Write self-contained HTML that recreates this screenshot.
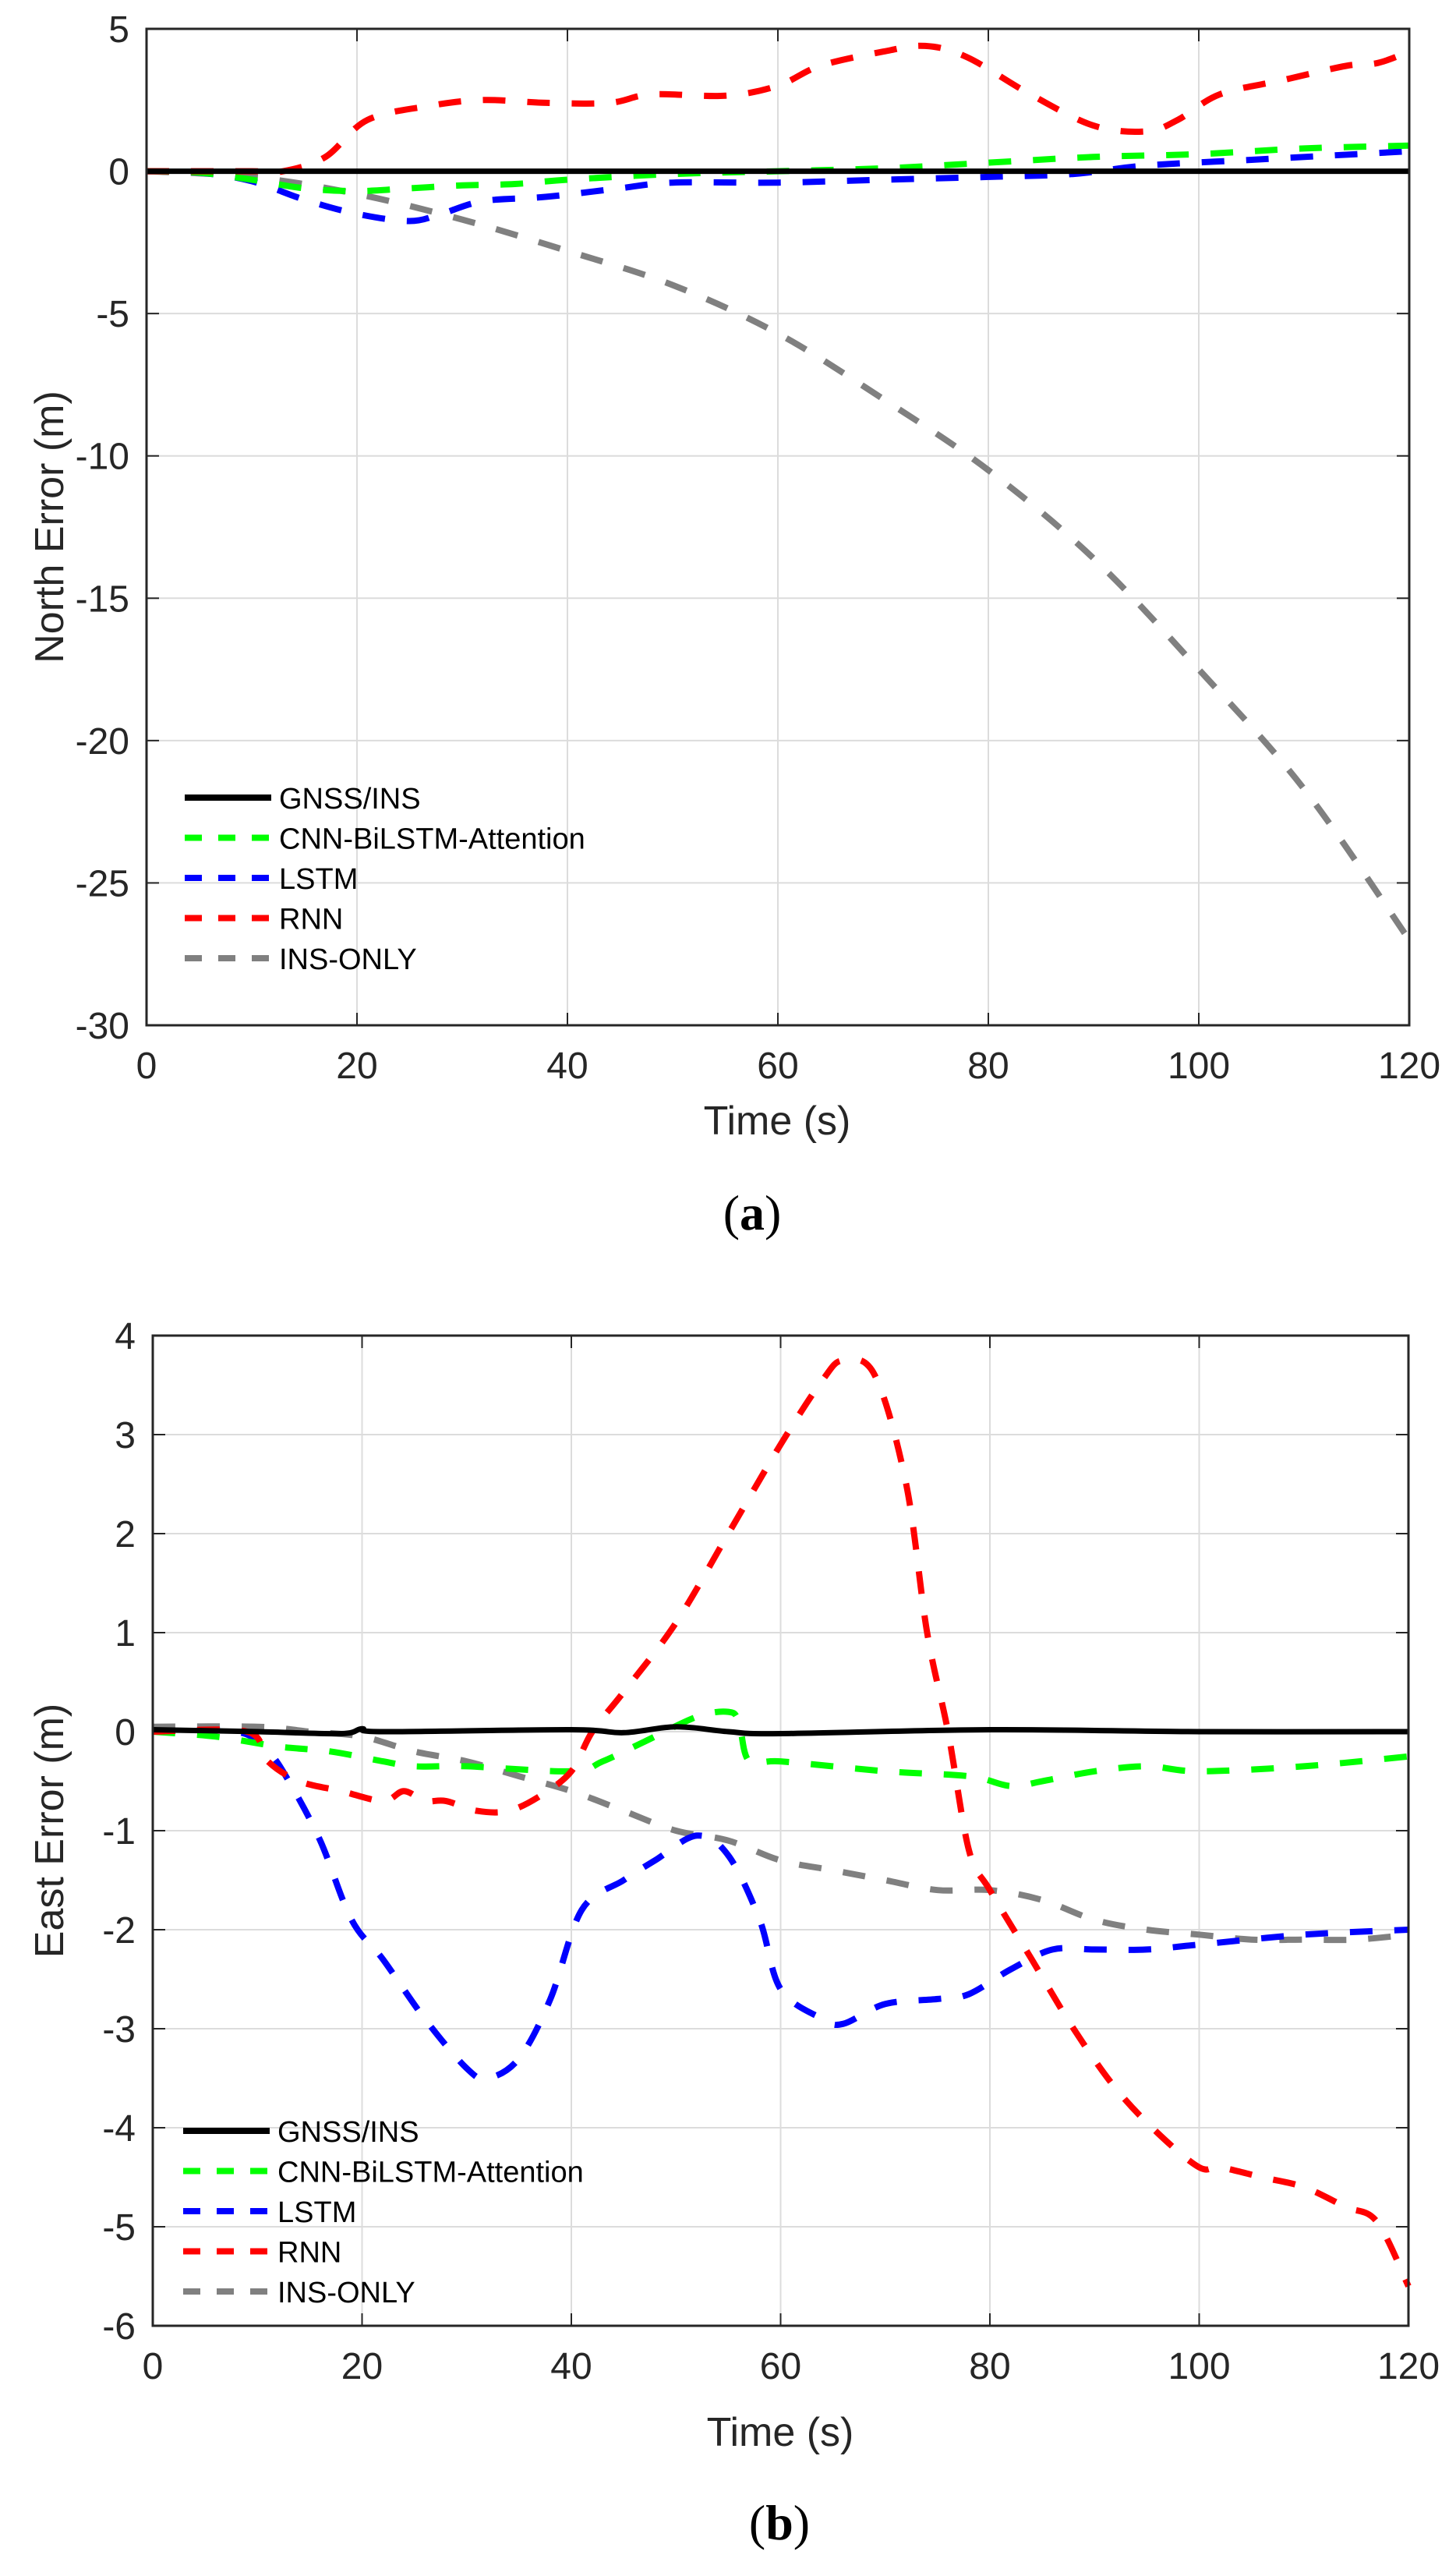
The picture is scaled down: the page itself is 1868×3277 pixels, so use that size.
<!DOCTYPE html>
<html><head><meta charset="utf-8"><style>
html,body{margin:0;padding:0;background:#fff}
svg{display:block}
text{font-family:"Liberation Sans",Arial,sans-serif;fill:#262626}
</style></head><body>
<svg id="s" width="1868" height="3277" viewBox="0 0 1868 3277" xmlns="http://www.w3.org/2000/svg">
<g id="ga"></g><g id="gb"></g>
<text x="63" y="676" font-size="52" text-anchor="middle" transform="rotate(-90 63 676)" dy="18">North Error (m)</text>
<text x="997" y="1455" font-size="52" text-anchor="middle">Time (s)</text>
<text x="965" y="1577" font-size="64" text-anchor="middle" style="font-family:'Liberation Serif',serif;fill:#000">(<tspan font-weight="bold">a</tspan>)</text>
<text x="63" y="2348" font-size="52" text-anchor="middle" transform="rotate(-90 63 2348)" dy="18">East Error (m)</text>
<text x="1001" y="3137" font-size="52" text-anchor="middle">Time (s)</text>
<text x="1000" y="3257" font-size="64" text-anchor="middle" style="font-family:'Liberation Serif',serif;fill:#000">(<tspan font-weight="bold">b</tspan>)</text>
</svg>
<script>
const NS="http://www.w3.org/2000/svg";
function el(p,t,a,txt){const e=document.createElementNS(NS,t);for(const k in a)e.setAttribute(k,a[k]);if(txt!==undefined)e.textContent=txt;p.appendChild(e);return e;}
function path(pts){
 let d="M"+pts[0][0].toFixed(1)+","+pts[0][1].toFixed(1);
 for(let i=0;i<pts.length-1;i++){const p0=pts[Math.max(0,i-1)],p1=pts[i],p2=pts[i+1],p3=pts[Math.min(pts.length-1,i+2)];
  const c1=[p1[0]+(p2[0]-p0[0])/6,p1[1]+(p2[1]-p0[1])/6],c2=[p2[0]-(p3[0]-p1[0])/6,p2[1]-(p3[1]-p1[1])/6];
  d+="C"+c1[0].toFixed(1)+","+c1[1].toFixed(1)+" "+c2[0].toFixed(1)+","+c2[1].toFixed(1)+" "+p2[0].toFixed(1)+","+p2[1].toFixed(1);}
 return d;}
function plot(g,cfg){
 const {x0,x1,y0,y1,ymin,ymax,ystep,series,leg}=cfg;
 const X=t=>x0+(x1-x0)*t/120, Y=v=>y1-(y1-y0)*(v-ymin)/(ymax-ymin);
 for(let t=0;t<=120;t+=20){ if(t>0&&t<120) el(g,"line",{x1:X(t),x2:X(t),y1:y0,y2:y1,stroke:"#dcdcdc","stroke-width":2});
  el(g,"line",{x1:X(t),x2:X(t),y1:y1,y2:y1-16,stroke:"#262626","stroke-width":2});
  el(g,"line",{x1:X(t),x2:X(t),y1:y0,y2:y0+16,stroke:"#262626","stroke-width":2});
  el(g,"text",{x:X(t),y:y1+68,"font-size":48,"text-anchor":"middle"},String(t));}
 for(let v=ymin;v<=ymax+1e-9;v+=ystep){ if(v>ymin&&v<ymax) el(g,"line",{x1:x0,x2:x1,y1:Y(v),y2:Y(v),stroke:"#dcdcdc","stroke-width":2});
  el(g,"line",{x1:x0,x2:x0+16,y1:Y(v),y2:Y(v),stroke:"#262626","stroke-width":2});
  el(g,"line",{x1:x1,x2:x1-16,y1:Y(v),y2:Y(v),stroke:"#262626","stroke-width":2});
  el(g,"text",{x:x0-22,y:Y(v)+17,"font-size":48,"text-anchor":"end"},String(v));}
 const cols=["#000","#00ff00","#0000ff","#ff0000","#808080"];
 const names=["GNSS/INS","CNN-BiLSTM-Attention","LSTM","RNN","INS-ONLY"];
 const order=[4,2,1,3,0];
 for(const i of order){const pts=series[i].map(p=>[X(p[0]),Y(p[1])]);
  const a={d:path(pts),fill:"none",stroke:cols[i],"stroke-width":i==0?7:8,"stroke-linejoin":"round"};
  if(i>0)a["stroke-dasharray"]="29 28";el(g,"path",a);}
 el(g,"rect",{x:x0,y:y0,width:x1-x0,height:y1-y0,fill:"none",stroke:"#262626","stroke-width":3});
 for(let i=0;i<5;i++){const yy=leg.y+i*51.5;
  const a={x1:leg.x,x2:leg.x+111,y1:yy,y2:yy,stroke:cols[i],"stroke-width":8};
  if(i>0)a["stroke-dasharray"]="22 21";el(g,"line",a);
  el(g,"text",{x:leg.x+121,y:yy+14,"font-size":38,style:"fill:#000"},names[i]);}
}
const A={x0:188,x1:1808,y0:37,y1:1315,ymin:-30,ymax:5,ystep:5,leg:{x:237,y:1023},series:[
 [[0,0],[30,0],[60,0],[90,0],[120,0]],
 [[0,0],[5,-0.05],[10,-0.3],[15,-0.6],[20,-0.7],[25,-0.6],[30,-0.5],[35,-0.45],[40,-0.3],[50,-0.1],[60,0],[70,0.1],[80,0.3],[90,0.5],[100,0.6],[110,0.8],[120,0.9]],
 [[0,0],[5,-0.05],[10,-0.35],[15,-1.0],[20,-1.5],[25,-1.75],[28,-1.5],[32,-1.05],[38,-0.9],[45,-0.6],[50,-0.4],[60,-0.4],[70,-0.3],[80,-0.2],[88,-0.1],[95,0.2],[105,0.4],[115,0.6],[120,0.7]],
 [[0,0],[10,0],[13,0],[17,0.5],[21,1.8],[27,2.3],[32,2.5],[38,2.4],[44,2.4],[48,2.7],[55,2.65],[60,3.0],[64,3.7],[70,4.2],[74,4.4],[78,4.0],[84,2.7],[90,1.6],[95,1.4],[98,1.8],[102,2.7],[108,3.2],[114,3.7],[117,3.8],[120,4.2]],
 [[0,0],[10,-0.2],[20,-0.8],[30,-1.7],[40,-2.8],[50,-4.0],[60,-5.7],[70,-8.0],[80,-10.5],[90,-13.6],[100,-17.5],[110,-21.7],[120,-27]]]};
const B={x0:196,x1:1807,y0:1713,y1:2983,ymin:-6,ymax:4,ystep:1,leg:{x:235,y:2733},series:[
 [[0,0.02],[10,0],[18,-0.02],[20,0.03],[22,0],[40,0.02],[45,-0.01],[50,0.05],[55,0],[60,-0.02],[80,0.02],[100,0],[120,0]],
 [[0,0],[6,-0.05],[12,-0.15],[17,-0.2],[22,-0.3],[25,-0.35],[30,-0.35],[40,-0.4],[43,-0.3],[47,-0.1],[52,0.15],[55,0.2],[56,0.1],[57,-0.3],[60,-0.3],[70,-0.4],[78,-0.45],[82,-0.55],[85,-0.5],[90,-0.4],[95,-0.35],[100,-0.4],[110,-0.35],[120,-0.25]],
 [[0,0],[8,0],[11,-0.2],[13,-0.5],[16,-1.1],[19,-1.9],[22,-2.3],[26,-2.9],[30,-3.4],[32,-3.5],[35,-3.3],[38,-2.7],[41,-1.8],[45,-1.5],[48,-1.3],[52,-1.05],[55,-1.25],[58,-1.9],[60,-2.6],[64,-2.9],[66,-2.95],[70,-2.75],[75,-2.7],[78,-2.65],[82,-2.4],[86,-2.2],[90,-2.2],[95,-2.2],[100,-2.15],[110,-2.05],[120,-2.0]],
 [[0,0],[9,0],[11,-0.3],[14,-0.5],[18,-0.6],[22,-0.7],[24,-0.6],[26,-0.7],[28,-0.7],[31,-0.8],[34,-0.8],[37,-0.65],[40,-0.4],[42,0],[45,0.4],[50,1.1],[55,2.0],[60,2.9],[64,3.55],[66,3.75],[69,3.6],[72,2.5],[74,1.0],[76,0],[78,-1.2],[80,-1.6],[84,-2.3],[88,-3.0],[92,-3.6],[96,-4.05],[100,-4.4],[102,-4.4],[106,-4.5],[110,-4.6],[114,-4.8],[117,-4.95],[120,-5.6]],
 [[0,0.05],[10,0.05],[15,0],[20,-0.05],[25,-0.2],[30,-0.3],[35,-0.45],[40,-0.6],[45,-0.8],[50,-1.0],[55,-1.1],[60,-1.3],[65,-1.4],[70,-1.5],[75,-1.6],[80,-1.6],[85,-1.7],[90,-1.9],[95,-2.0],[100,-2.05],[105,-2.1],[110,-2.1],[115,-2.1],[120,-2.05]]]};
plot(document.getElementById("ga"),A);plot(document.getElementById("gb"),B);
</script>
</body></html>
